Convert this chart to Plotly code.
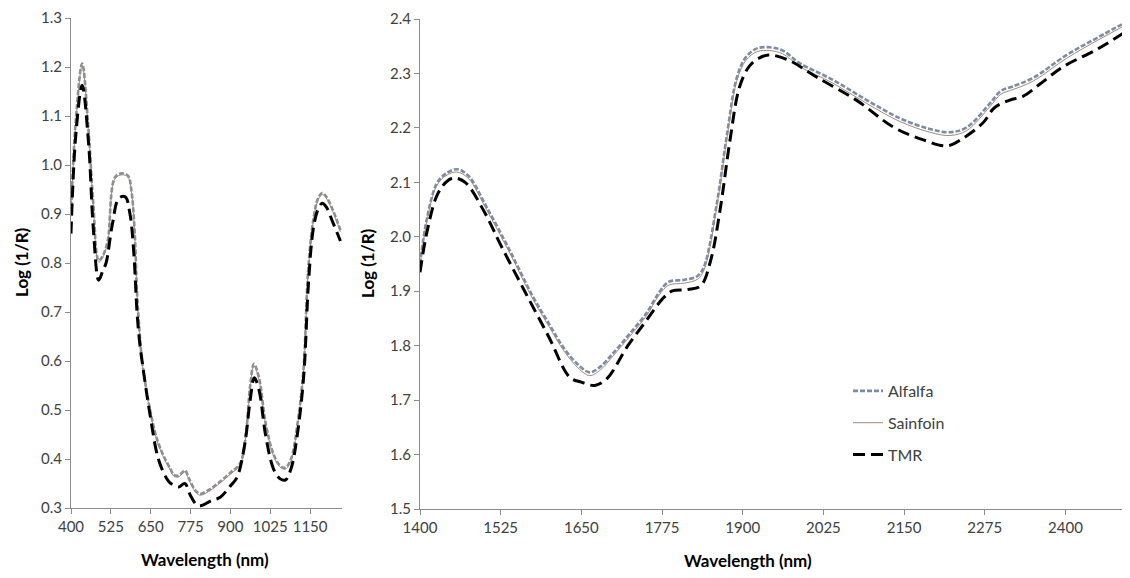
import plotly.graph_objects as go

# ---------- Left panel (VIS/NIR 400-1250 nm) ----------
wl_left_alfalfa = [400, 415, 435, 455, 470, 487, 500, 515, 538, 560, 579, 590, 600, 607, 615, 623, 648,
                   670, 695, 712, 722, 735, 748, 758, 770, 790, 805, 830, 860, 900, 931, 950, 962, 974,
                   990, 1010, 1035, 1055, 1072, 1090, 1110, 1129, 1144, 1160, 1175, 1188, 1200, 1220, 1245]
alfalfa_left = [0.90, 1.09, 1.207, 1.07, 0.92, 0.805, 0.815, 0.845, 0.975, 0.983, 0.978, 0.945, 0.86, 0.74,
                0.66, 0.60, 0.50, 0.44, 0.40, 0.38, 0.368, 0.366, 0.372, 0.377, 0.36, 0.336, 0.329, 0.336,
                0.35, 0.372, 0.392, 0.46, 0.55, 0.594, 0.565, 0.475, 0.41, 0.387, 0.382, 0.40, 0.47, 0.58,
                0.786, 0.888, 0.932, 0.943, 0.936, 0.91, 0.867]

wl_left_sainfoin = wl_left_alfalfa
sainfoin_left = [0.895, 1.085, 1.203, 1.066, 0.917, 0.802, 0.812, 0.842, 0.972, 0.980, 0.975, 0.942, 0.857,
                 0.737, 0.657, 0.597, 0.497, 0.437, 0.397, 0.377, 0.365, 0.363, 0.369, 0.374, 0.357, 0.333,
                 0.326, 0.333, 0.347, 0.369, 0.389, 0.457, 0.547, 0.590, 0.561, 0.472, 0.407, 0.384, 0.379,
                 0.397, 0.467, 0.577, 0.783, 0.885, 0.929, 0.940, 0.933, 0.907, 0.864]

wl_left_tmr = [400, 415, 435, 455, 470, 487, 500, 510, 530, 550, 570, 585, 597, 607, 615, 625, 648, 674,
               700, 711, 737, 757, 775, 795, 810, 840, 868, 900, 921, 945, 962, 975, 990, 1010, 1035, 1055,
               1072, 1090, 1110, 1130, 1145, 1160, 1175, 1188, 1200, 1220, 1245]
tmr_left = [0.86, 1.06, 1.163, 1.045, 0.87, 0.765, 0.785, 0.80, 0.88, 0.932, 0.935, 0.90, 0.82, 0.70,
            0.64, 0.59, 0.49, 0.40, 0.36, 0.351, 0.343, 0.35, 0.325, 0.306, 0.305, 0.315, 0.322, 0.345,
            0.363, 0.43, 0.52, 0.566, 0.54, 0.45, 0.38, 0.36, 0.357, 0.38, 0.45, 0.57, 0.76, 0.87, 0.91,
            0.922, 0.915, 0.885, 0.845]

# ---------- Right panel (NIR 1400-2500 nm) ----------
wl_right_alfalfa = [1400, 1411, 1426, 1440, 1457, 1475, 1503, 1539, 1575, 1600, 1622, 1645, 1663, 1680,
                    1699, 1725, 1751, 1770, 1785, 1810, 1830, 1840, 1860, 1875, 1891, 1905, 1922, 1942,
                    1962, 1988, 2040, 2092, 2143, 2190, 2221, 2247, 2283, 2300, 2318, 2350, 2402, 2450, 2500]
alfalfa_right = [1.95, 2.035, 2.098, 2.116, 2.124, 2.112, 2.055, 1.975, 1.89, 1.84, 1.797, 1.765, 1.751,
                 1.762, 1.786, 1.822, 1.86, 1.897, 1.917, 1.921, 1.928, 1.945, 2.062, 2.183, 2.293, 2.33,
                 2.346, 2.348, 2.342, 2.319, 2.288, 2.251, 2.218, 2.198, 2.192, 2.201, 2.245, 2.268, 2.276,
                 2.292, 2.334, 2.366, 2.398]

wl_right_sainfoin = wl_right_alfalfa
sainfoin_right = [1.947, 2.031, 2.094, 2.112, 2.119, 2.107, 2.050, 1.970, 1.885, 1.835, 1.792, 1.759,
                  1.745, 1.756, 1.781, 1.817, 1.855, 1.892, 1.911, 1.915, 1.922, 1.939, 2.056, 2.177,
                  2.287, 2.324, 2.340, 2.342, 2.336, 2.313, 2.282, 2.245, 2.212, 2.192, 2.186, 2.195,
                  2.239, 2.262, 2.270, 2.286, 2.328, 2.361, 2.393]

wl_right_tmr = [1400, 1411, 1426, 1440, 1452, 1470, 1500, 1525, 1560, 1600, 1632, 1650, 1671, 1690, 1722,
                1750, 1775, 1790, 1815, 1835, 1850, 1865, 1880, 1895, 1910, 1925, 1940, 1970, 2015, 2076,
                2134, 2180, 2216, 2240, 2272, 2290, 2314, 2334, 2360, 2396, 2450, 2500]
tmr_right = [1.935, 2.01, 2.075, 2.1, 2.108, 2.1, 2.045, 1.985, 1.905, 1.815, 1.742, 1.733, 1.727, 1.74,
             1.8, 1.845, 1.885, 1.9, 1.903, 1.91, 1.955, 2.05, 2.175, 2.275, 2.313, 2.328, 2.334, 2.325,
             2.293, 2.251, 2.201, 2.178, 2.167, 2.18, 2.209, 2.237, 2.251, 2.258, 2.28, 2.312, 2.345, 2.382]

left_xticks = [400, 525, 650, 775, 900, 1025, 1150]
right_xticks = [1400, 1525, 1650, 1775, 1900, 2025, 2150, 2275, 2400]
left_yticks = [0.3, 0.4, 0.5, 0.6, 0.7, 0.8, 0.9, 1.0, 1.1, 1.2, 1.3]
right_yticks = [1.5, 1.6, 1.7, 1.8, 1.9, 2.0, 2.1, 2.2, 2.3, 2.4]

series_names = ["Alfalfa", "Sainfoin", "TMR"]

# The page body adds an 8px offset, so the figure is 8px smaller and
# all reference pixel positions are shifted by 8px.
OFF = 8
W, H = 1130 - OFF, 578 - OFF
FONT = "Lato, 'Open Sans', Arial, sans-serif"
AXIS_COL = "#8c8c8c"
TICK_COL = "#404040"

fig = go.Figure()

alf_left_style = dict(color="#8f8f8f", width=2.6, dash="5px,2px")
alf_right_style = dict(color="#7b8da6", width=2.6, dash="5px,2px")
sain_style = dict(color="#a08a7c", width=1)
tmr_style = dict(color="#000000", width=3, dash="12px,6px")

# Left panel traces
fig.add_trace(go.Scatter(x=wl_left_sainfoin, y=sainfoin_left, mode="lines", line=sain_style,
                         line_shape="spline", xaxis="x", yaxis="y", showlegend=False, name=series_names[1]))
fig.add_trace(go.Scatter(x=wl_left_alfalfa, y=alfalfa_left, mode="lines", line=alf_left_style,
                         line_shape="spline", xaxis="x", yaxis="y", showlegend=False, name=series_names[0]))
fig.add_trace(go.Scatter(x=wl_left_tmr, y=tmr_left, mode="lines", line=tmr_style,
                         line_shape="spline", xaxis="x", yaxis="y", showlegend=False, name=series_names[2]))

# Right panel traces (with legend)
fig.add_trace(go.Scatter(x=wl_right_alfalfa, y=alfalfa_right, mode="lines", line=alf_right_style,
                         line_shape="spline", xaxis="x2", yaxis="y2", name=series_names[0],
                         legendgroup="a", legendrank=1))
fig.add_trace(go.Scatter(x=wl_right_sainfoin, y=sainfoin_right, mode="lines", line=sain_style,
                         line_shape="spline", xaxis="x2", yaxis="y2", name=series_names[1],
                         legendgroup="s", legendrank=2))
fig.add_trace(go.Scatter(x=wl_right_tmr, y=tmr_right, mode="lines", line=tmr_style,
                         line_shape="spline", xaxis="x2", yaxis="y2", name=series_names[2],
                         legendgroup="t", legendrank=3))

def px_x(p):
    return min(1.0, (p - OFF) / W)

def px_y(p):
    return 1 - (p - OFF) / H

common_axis = dict(showgrid=False, zeroline=False, showline=True, linecolor=AXIS_COL, linewidth=1,
                   ticks="outside", ticklen=5, tickcolor=AXIS_COL, tickwidth=1, automargin=False,
                   tickfont=dict(family=FONT, size=15, color=TICK_COL), fixedrange=True)

fig.update_layout(
    width=W, height=H,
    margin=dict(l=0, r=0, t=0, b=0, autoexpand=False),
    paper_bgcolor="white", plot_bgcolor="white",
    font=dict(family=FONT),
    xaxis=dict(domain=[px_x(71), px_x(342)], range=[400, 1250], tickvals=left_xticks,
               anchor="y", **common_axis),
    yaxis=dict(domain=[px_y(508), px_y(18)], range=[0.3, 1.3], tickvals=left_yticks,
               tickformat=".1f", anchor="x", **common_axis),
    xaxis2=dict(domain=[px_x(420), 1.0], range=[1400, 2500], tickvals=right_xticks,
                anchor="y2", **common_axis),
    yaxis2=dict(domain=[px_y(509), px_y(19)], range=[1.5, 2.4], tickvals=right_yticks,
                tickformat=".1f", anchor="x2", **common_axis),
    legend=dict(x=px_x(848), y=px_y(374), xanchor="left", yanchor="top",
                font=dict(family=FONT, size=16, color=TICK_COL),
                bgcolor="rgba(0,0,0,0)", traceorder="grouped", tracegroupgap=8,
                itemwidth=30),
    showlegend=True,
)

title_font = dict(family=FONT, size=17, color="#000000")
annotations = [
    dict(text="<b>Wavelength (nm)</b>", x=px_x(205), y=px_y(559), xref="paper", yref="paper",
         showarrow=False, font=title_font, xanchor="center", yanchor="middle"),
    dict(text="<b>Wavelength (nm)</b>", x=px_x(748), y=px_y(560), xref="paper", yref="paper",
         showarrow=False, font=title_font, xanchor="center", yanchor="middle"),
    dict(text="<b>Log (1/R)</b>", x=px_x(21), y=px_y(262), xref="paper", yref="paper",
         showarrow=False, font=title_font, textangle=-90, xanchor="center", yanchor="middle"),
    dict(text="<b>Log (1/R)</b>", x=px_x(367), y=px_y(263), xref="paper", yref="paper",
         showarrow=False, font=title_font, textangle=-90, xanchor="center", yanchor="middle"),
]
fig.update_layout(annotations=annotations)

fig.write_html("out.html")
